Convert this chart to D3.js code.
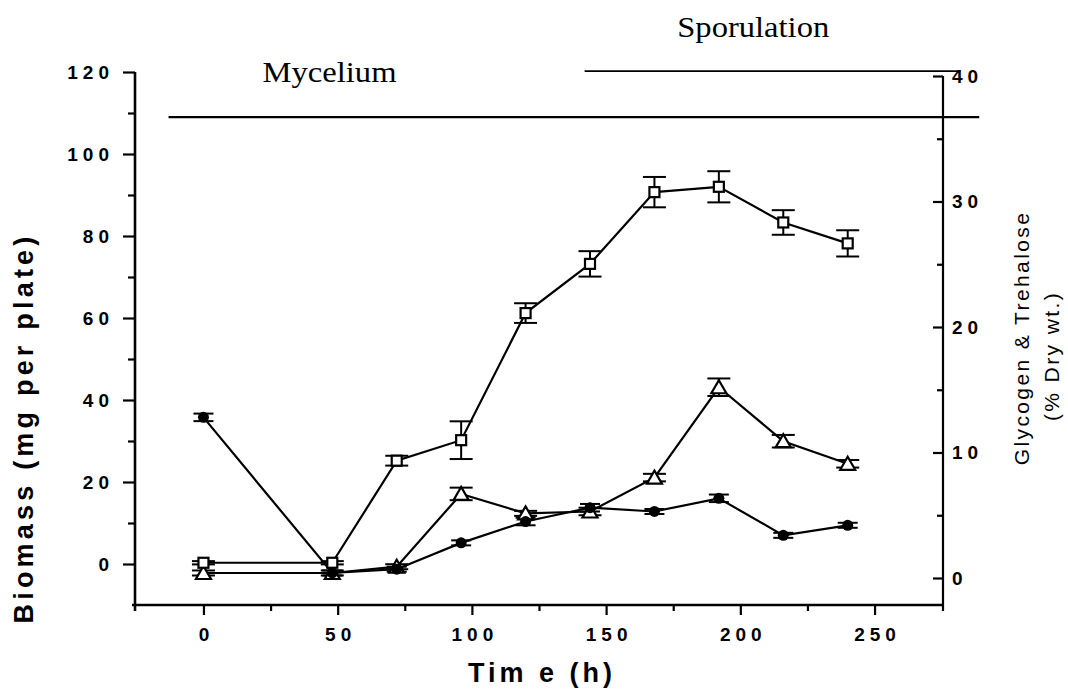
<!DOCTYPE html>
<html><head><meta charset="utf-8">
<script src="https://cdn.jsdelivr.net/npm/d3@7"></script>
<style>
html,body{margin:0;padding:0;background:#fff;}
svg{display:block;}
</style></head>
<body><svg id="chart" width="1068" height="691"></svg>
<script>
// Sampling times (h)
const hours = [0, 48, 72, 96, 120, 144, 168, 192, 216, 240];
// Biomass, mg per plate (open squares, left axis) with +/- error
const biomass    = [0.3, 0.3, 25.2, 30.2, 61.2, 73.2, 90.7, 92.0, 83.3, 78.2];
const biomassErr = [0.4, 0.4, 1.2, 4.6, 2.4, 3.1, 3.7, 3.8, 3.0, 3.2];
// Glycogen, % dry wt. (filled circles, right axis)
const glycogen    = [12.8, 0.4, 0.7, 2.8, 4.5, 5.6, 5.3, 6.35, 3.4, 4.2];
const glycogenErr = [0.3, 0.2, 0.2, 0.2, 0.3, 0.3, 0.2, 0.3, 0.2, 0.2];
// Trehalose, % dry wt. (open triangles, right axis)
const trehalose    = [0.4, 0.4, 0.9, 6.7, 5.15, 5.3, 8.0, 15.2, 10.9, 9.1];
const trehaloseErr = [0.2, 0.2, 0.2, 0.5, 0.2, 0.3, 0.3, 0.7, 0.5, 0.3];
// Axis tick values
const timeTicks    = [0, 50, 100, 150, 200, 250];
const biomassTicks = [0, 20, 40, 60, 80, 100, 120];
const carbTicks    = [0, 10, 20, 30, 40];
// Developmental phases (h)
const phaseNames = ["Mycelium", "Sporulation"];
const phaseStart = [-13, 142];
const phaseEnd   = [289, 282];

const svg = d3.select("#chart");
const sans = "'Liberation Sans', Arial, Helvetica, sans-serif";
const serif = "'Liberation Serif', 'Times New Roman', serif";

const x  = d3.scaleLinear().domain([-25.5, 275.5]).range([135, 943]);
const yL = d3.scaleLinear().domain([-10, 120]).range([605, 72]);
const yR = d3.scaleLinear().domain([0, 40]).range([578, 76]);

const tickLS = 5; // letter spacing of tick labels

// ---- axes ----
function styleAxis(g) {
  g.attr("font-size", null).attr("font-family", null);
  g.select(".domain").remove();
  g.selectAll(".tick line").attr("stroke", "#000").attr("stroke-width", 2.2);
  g.selectAll(".tick text")
    .attr("fill", "#000")
    .style("font-family", sans)
    .style("font-size", "19px")
    .style("font-weight", "bold")
    .style("letter-spacing", tickLS + "px");
}

// left axis (biomass)
const gL = svg.append("g").attr("transform", "translate(135,0)");
gL.call(d3.axisLeft(yL).tickValues(biomassTicks).tickSize(12).tickPadding(9)).call(styleAxis);
gL.append("g").call(d3.axisLeft(yL).tickValues(d3.range(10, 120, 20)).tickSize(7).tickFormat(""))
  .call(styleAxis);
svg.append("line").attr("x1", 135).attr("x2", 135).attr("y1", 72).attr("y2", 611)
  .attr("stroke", "#000").attr("stroke-width", 2.6);

// bottom axis (time)
const gB = svg.append("g").attr("transform", "translate(0,605)");
gB.call(d3.axisBottom(x).tickValues(timeTicks).tickSize(10).tickPadding(13)).call(styleAxis);
gB.selectAll(".tick text").attr("dx", tickLS / 2);
gB.append("g").call(d3.axisBottom(x).tickValues(d3.range(25, 275, 50)).tickSize(6).tickFormat(""))
  .call(styleAxis);
svg.append("line").attr("x1", 132).attr("x2", 944).attr("y1", 605).attr("y2", 605)
  .attr("stroke", "#000").attr("stroke-width", 2.6);

// right axis (glycogen & trehalose), ticks pointing inward
const gR = svg.append("g").attr("transform", "translate(943,0)");
gR.call(d3.axisRight(yR).tickValues(carbTicks).tickSizeInner(-10).tickSizeOuter(0).tickPadding(9))
  .call(styleAxis);
gR.append("g").call(d3.axisRight(yR).tickValues(d3.range(5, 40, 10)).tickSizeInner(-6).tickSizeOuter(0).tickFormat(""))
  .call(styleAxis);
svg.append("line").attr("x1", 943).attr("x2", 943).attr("y1", 76).attr("y2", 611)
  .attr("stroke", "#000").attr("stroke-width", 2.2);

// ---- axis titles ----
svg.append("text")
  .attr("transform", "translate(33,428) rotate(-90)")
  .attr("text-anchor", "middle")
  .style("font-family", sans).style("font-size", "27px").style("font-weight", "bold")
  .style("letter-spacing", "4.2px")
  .text("Biomass (mg per plate)");

svg.append("text")
  .attr("x", 542).attr("y", 682)
  .attr("text-anchor", "middle")
  .style("font-family", sans).style("font-size", "27px").style("font-weight", "bold")
  .style("letter-spacing", "4px")
  .text("Tim e (h)");

const rTitle = svg.append("text")
  .attr("transform", "translate(1029,338) rotate(-90)")
  .attr("text-anchor", "middle")
  .style("font-family", sans).style("font-size", "21px")
  .style("letter-spacing", "2.4px");
rTitle.append("tspan").attr("x", 0).attr("y", 0).text("Glycogen & Trehalose");
rTitle.append("tspan").attr("x", -18).attr("y", 30).text("(% Dry wt.)");

// ---- developmental phase bars ----
const phaseLevel = [109, 120.2];
const phaseWidth = [2.4, 1.8];
phaseNames.forEach((name, i) => {
  svg.append("line")
    .attr("x1", x(phaseStart[i])).attr("x2", x(phaseEnd[i]))
    .attr("y1", yL(phaseLevel[i])).attr("y2", yL(phaseLevel[i]))
    .attr("stroke", "#000").attr("stroke-width", phaseWidth[i]);
});
svg.append("text").attr("x", x(22)).attr("y", 82)
  .attr("textLength", 134).attr("lengthAdjust", "spacingAndGlyphs")
  .style("font-family", serif).style("font-size", "29px").text(phaseNames[0]);
svg.append("text").attr("x", x(176.5)).attr("y", 37)
  .attr("textLength", 152).attr("lengthAdjust", "spacingAndGlyphs")
  .style("font-family", serif).style("font-size", "29px").text(phaseNames[1]);

// ---- series ----
const series = [
  { vals: trehalose, err: trehaloseErr, y: yR, shape: "tri", cap: 23 },
  { vals: glycogen,  err: glycogenErr,  y: yR, shape: "dot", cap: 20 },
  { vals: biomass,   err: biomassErr,   y: yL, shape: "sq",  cap: 23 }
];

const plot = svg.append("g");
const lineGen = s => d3.line().x((d, i) => x(hours[i])).y(d => s.y(d))(s.vals);

series.forEach(s => {
  plot.append("path").attr("d", lineGen(s))
    .attr("fill", "none").attr("stroke", "#000").attr("stroke-width", 2.2);
});

series.forEach(s => {
  const g = plot.append("g").attr("stroke", "#000").attr("stroke-width", 2);
  s.vals.forEach((v, i) => {
    const cx = x(hours[i]);
    const y1 = s.y(v + s.err[i]), y0 = s.y(v - s.err[i]);
    g.append("line").attr("x1", cx).attr("x2", cx).attr("y1", y1).attr("y2", y0);
    g.append("line").attr("x1", cx - s.cap / 2).attr("x2", cx + s.cap / 2).attr("y1", y1).attr("y2", y1);
    g.append("line").attr("x1", cx - s.cap / 2).attr("x2", cx + s.cap / 2).attr("y1", y0).attr("y2", y0);
  });
});

series.forEach(s => {
  const g = plot.append("g");
  s.vals.forEach((v, i) => {
    const cx = x(hours[i]), cy = s.y(v);
    if (s.shape === "sq") {
      g.append("rect").attr("x", cx - 5).attr("y", cy - 5).attr("width", 10).attr("height", 10)
        .attr("fill", "#fff").attr("stroke", "#000").attr("stroke-width", 2.2);
    } else if (s.shape === "tri") {
      g.append("path").attr("d", `M${cx},${cy - 7}L${cx + 7.5},${cy + 6}L${cx - 7.5},${cy + 6}Z`)
        .attr("fill", "#fff").attr("stroke", "#000").attr("stroke-width", 2.2);
    } else {
      g.append("circle").attr("cx", cx).attr("cy", cy).attr("r", 5.5).attr("fill", "#000");
    }
  });
});
</script>
</body></html>
